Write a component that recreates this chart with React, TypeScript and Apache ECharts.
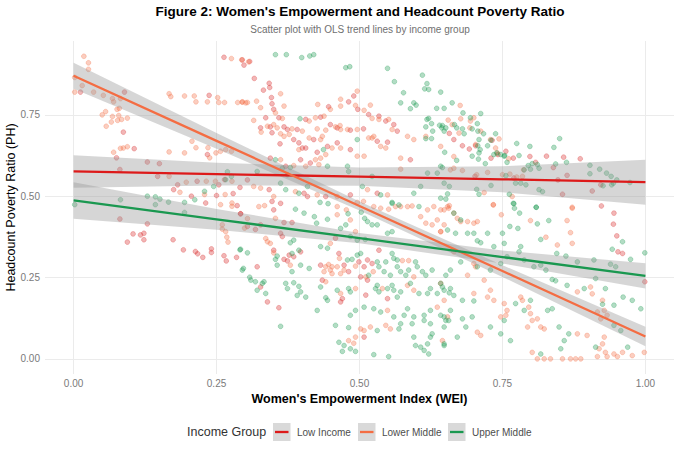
import React, { useEffect, useRef } from "react";
import * as echarts from "echarts";

// ---------- data ----------
const groupNames = ["Low Income", "Lower Middle", "Upper Middle"];
const xTicks = [0, 0.25, 0.5, 0.75, 1];
const yTicks = [0, 0.25, 0.5, 0.75];

const lowIncomePts: [number, number][] = [
  [0.012,0.82],[0.089,0.82],[0.087,0.697],[0.106,0.646],[0.075,0.618],[0.081,0.582],[0.129,0.605],[0.15,0.6],[0.237,0.81],[0.263,0.927],
  [0.234,0.628],[0.147,0.561],[0.182,0.535],[0.216,0.546],[0.254,0.535],[0.175,0.52],[0.206,0.5],[0.25,0.502],[0.279,0.508],[0.231,0.479],
  [0.286,0.471],[0.291,0.527],[0.264,0.551],[0.081,0.43],[0.129,0.415],[0.104,0.384],[0.117,0.381],[0.123,0.386],[0.123,0.366],[0.094,0.359],
  [0.174,0.366],[0.192,0.335],[0.213,0.33],[0.217,0.323],[0.226,0.312],[0.241,0.338],[0.241,0.327],[0.263,0.317],[0.267,0.301],[0.285,0.312],
  [0.292,0.446],[0.295,0.919],[0.308,0.914],[0.298,0.903],[0.316,0.862],[0.342,0.847],[0.343,0.834],[0.332,0.826],[0.346,0.803],[0.347,0.784],
  [0.35,0.767],[0.336,0.741],[0.359,0.741],[0.327,0.71],[0.344,0.713],[0.368,0.713],[0.347,0.695],[0.374,0.705],[0.391,0.705],[0.406,0.736],
  [0.432,0.743],[0.446,0.775],[0.49,0.808],[0.481,0.79],[0.497,0.767],[0.516,0.751],[0.534,0.746],[0.546,0.731],[0.56,0.72],[0.566,0.7],
  [0.449,0.72],[0.461,0.71],[0.484,0.703],[0.507,0.707],[0.385,0.674],[0.394,0.664],[0.4,0.648],[0.406,0.648],[0.361,0.661],[0.42,0.674],
  [0.444,0.653],[0.461,0.664],[0.426,0.635],[0.484,0.643],[0.531,0.669],[0.549,0.666],[0.589,0.612],[0.344,0.617],[0.371,0.592],[0.397,0.612],
  [0.414,0.602],[0.304,0.55],[0.342,0.52],[0.362,0.478],[0.403,0.509],[0.409,0.499],[0.441,0.499],[0.484,0.504],[0.531,0.509],[0.657,0.693],
  [0.665,0.674],[0.68,0.655],[0.692,0.645],[0.703,0.655],[0.732,0.672],[0.73,0.617],[0.742,0.628],[0.756,0.638],[0.769,0.617],[0.798,0.622],
  [0.827,0.623],[0.857,0.62],[0.886,0.615],[0.808,0.604],[0.839,0.588],[0.863,0.564],[0.847,0.55],[0.907,0.516],[0.922,0.535],[0.855,0.506],
  [0.923,0.47],[0.77,0.556],[0.702,0.561],[0.347,0.484],[0.292,0.446],[0.304,0.407],[0.318,0.398],[0.327,0.412],[0.35,0.458],[0.368,0.419],
  [0.382,0.419],[0.458,0.371],[0.35,0.334],[0.362,0.386],[0.365,0.376],[0.397,0.329],[0.385,0.314],[0.377,0.319],[0.368,0.306],[0.374,0.301],
  [0.321,0.283],[0.464,0.324],[0.499,0.298],[0.514,0.304],[0.508,0.283],[0.522,0.293],[0.534,0.334],[0.432,0.288],[0.473,0.288],[0.435,0.242],
  [0.481,0.268],[0.502,0.252],[0.514,0.242],[0.327,0.221],[0.339,0.175],[0.359,0.157],[0.47,0.185],[0.467,0.175],[0.511,0.196],[0.549,0.185],
  [0.508,0.067],[0.945,0.448],[0.944,0.414],[0.95,0.378],[0.952,0.329],[0.96,0.324],[0.999,0.237],
];

const lowerMiddlePts: [number, number][] = [
  [0.018,0.93],[0.026,0.91],[0.026,0.89],[0.002,0.865],[0.002,0.82],[0.015,0.84],[0.035,0.82],[0.052,0.81],[0.068,0.8],[0.07,0.79],
  [0.082,0.8],[0.05,0.75],[0.056,0.76],[0.068,0.745],[0.076,0.767],[0.08,0.77],[0.079,0.748],[0.077,0.733],[0.084,0.736],[0.094,0.74],
  [0.066,0.728],[0.057,0.715],[0.07,0.635],[0.082,0.647],[0.087,0.648],[0.094,0.652],[0.167,0.815],[0.17,0.806],[0.194,0.808],[0.211,0.808],
  [0.214,0.79],[0.234,0.79],[0.252,0.803],[0.254,0.788],[0.264,0.788],[0.287,0.788],[0.295,0.79],[0.304,0.788],[0.276,0.923],[0.294,0.919],
  [0.306,0.913],[0.207,0.669],[0.214,0.649],[0.235,0.649],[0.238,0.618],[0.249,0.633],[0.257,0.638],[0.266,0.643],[0.276,0.638],[0.167,0.636],
  [0.194,0.633],[0.167,0.561],[0.197,0.543],[0.232,0.546],[0.248,0.546],[0.277,0.546],[0.186,0.512],[0.229,0.505],[0.265,0.505],[0.257,0.474],
  [0.277,0.479],[0.277,0.469],[0.26,0.412],[0.26,0.399],[0.266,0.391],[0.268,0.374],[0.27,0.359],[0.299,0.402],[0.304,0.431],[0.362,0.815],
  [0.32,0.792],[0.301,0.787],[0.295,0.789],[0.327,0.772],[0.315,0.733],[0.353,0.756],[0.368,0.777],[0.365,0.739],[0.35,0.72],[0.339,0.715],
  [0.356,0.71],[0.328,0.697],[0.362,0.692],[0.382,0.707],[0.4,0.7],[0.423,0.741],[0.438,0.746],[0.412,0.731],[0.427,0.782],[0.449,0.767],
  [0.467,0.798],[0.467,0.777],[0.496,0.823],[0.493,0.779],[0.508,0.764],[0.519,0.78],[0.522,0.739],[0.534,0.736],[0.551,0.736],[0.557,0.705],
  [0.458,0.713],[0.466,0.717],[0.467,0.705],[0.479,0.705],[0.496,0.705],[0.426,0.707],[0.441,0.703],[0.435,0.684],[0.394,0.643],[0.368,0.684],
  [0.377,0.69],[0.412,0.679],[0.432,0.674],[0.452,0.648],[0.441,0.628],[0.432,0.617],[0.423,0.612],[0.467,0.648],[0.496,0.623],[0.508,0.623],
  [0.516,0.679],[0.522,0.679],[0.525,0.684],[0.537,0.653],[0.546,0.648],[0.572,0.617],[0.572,0.583],[0.584,0.684],[0.595,0.674],[0.616,0.684],
  [0.642,0.653],[0.362,0.612],[0.385,0.594],[0.406,0.592],[0.429,0.597],[0.315,0.53],[0.327,0.525],[0.35,0.499],[0.388,0.514],[0.426,0.504],
  [0.461,0.499],[0.514,0.52],[0.549,0.504],[0.676,0.779],[0.655,0.734],[0.662,0.72],[0.677,0.738],[0.693,0.71],[0.694,0.731],[0.7,0.741],
  [0.712,0.7],[0.674,0.694],[0.703,0.659],[0.744,0.676],[0.729,0.674],[0.738,0.648],[0.665,0.622],[0.659,0.581],[0.665,0.586],[0.68,0.579],
  [0.705,0.566],[0.724,0.573],[0.75,0.566],[0.763,0.568],[0.787,0.581],[0.785,0.561],[0.775,0.559],[0.718,0.511],[0.767,0.499],[0.734,0.473],
  [0.872,0.463],[0.657,0.471],[0.761,0.615],[0.741,0.633],[0.324,0.468],[0.334,0.471],[0.461,0.468],[0.477,0.458],[0.525,0.468],[0.537,0.463],
  [0.551,0.46],[0.563,0.468],[0.572,0.468],[0.584,0.468],[0.592,0.47],[0.619,0.458],[0.63,0.468],[0.642,0.458],[0.656,0.463],[0.607,0.437],
  [0.616,0.417],[0.627,0.412],[0.636,0.427],[0.642,0.391],[0.648,0.412],[0.496,0.481],[0.507,0.484],[0.353,0.432],[0.461,0.443],[0.484,0.427],
  [0.493,0.391],[0.449,0.355],[0.336,0.37],[0.339,0.36],[0.35,0.326],[0.344,0.355],[0.379,0.288],[0.465,0.309],[0.493,0.285],[0.575,0.302],
  [0.586,0.302],[0.441,0.283],[0.446,0.29],[0.452,0.283],[0.461,0.283],[0.452,0.262],[0.449,0.273],[0.438,0.268],[0.441,0.237],[0.467,0.262],
  [0.473,0.273],[0.511,0.252],[0.524,0.268],[0.595,0.252],[0.467,0.201],[0.493,0.216],[0.54,0.216],[0.584,0.226],[0.595,0.211],[0.549,0.149],
  [0.636,0.159],[0.502,0.092],[0.508,0.087],[0.519,0.098],[0.546,0.103],[0.554,0.092],[0.481,0.056],[0.49,0.048],[0.493,0.067],[0.734,0.474],
  [0.748,0.443],[0.799,0.425],[0.863,0.425],[0.872,0.466],[0.869,0.388],[0.872,0.355],[0.846,0.35],[0.826,0.374],[0.665,0.448],[0.671,0.432],
  [0.677,0.422],[0.7,0.417],[0.706,0.422],[0.689,0.422],[0.654,0.468],[0.648,0.458],[0.642,0.391],[0.665,0.329],[0.7,0.293],[0.703,0.283],
  [0.689,0.257],[0.718,0.242],[0.729,0.211],[0.724,0.19],[0.735,0.18],[0.7,0.201],[0.753,0.17],[0.758,0.149],[0.747,0.129],[0.756,0.134],
  [0.782,0.19],[0.785,0.18],[0.796,0.159],[0.799,0.139],[0.802,0.118],[0.811,0.123],[0.817,0.098],[0.823,0.092],[0.794,0.098],[0.881,0.077],
  [0.898,0.072],[0.881,0.206],[0.904,0.221],[0.907,0.2],[0.925,0.18],[0.928,0.149],[0.933,0.134],[0.916,0.144],[0.922,0.123],[0.928,0.067],
  [0.925,0.046],[0.919,0.031],[0.93,0.02],[0.945,0.015],[0.96,0.02],[0.977,0.01],[0.998,0.02],[0.811,0.0],[0.823,0.0],[0.834,0.0],
  [0.855,0.0],[0.869,0.0],[0.878,0.0],[0.887,0.0],[0.916,0.007],[0.933,0.007],[0.951,0.007],[0.802,0.02],[0.712,0.072],[0.706,0.082],
  [0.645,0.056],[0.654,0.129],[0.648,0.18],[0.642,0.232],
];

const upperMiddlePts: [number, number][] = [
  [0.002,0.474],[0.082,0.489],[0.129,0.5],[0.143,0.498],[0.151,0.491],[0.166,0.482],[0.143,0.474],[0.194,0.481],[0.212,0.489],[0.229,0.515],
  [0.245,0.53],[0.269,0.575],[0.266,0.551],[0.276,0.561],[0.194,0.45],[0.291,0.335],[0.295,0.273],[0.308,0.251],[0.353,0.935],[0.372,0.935],
  [0.399,0.926],[0.413,0.931],[0.42,0.935],[0.476,0.895],[0.483,0.898],[0.549,0.893],[0.561,0.852],[0.61,0.872],[0.618,0.846],[0.614,0.83],
  [0.621,0.828],[0.577,0.818],[0.642,0.82],[0.572,0.787],[0.595,0.787],[0.599,0.78],[0.589,0.769],[0.635,0.77],[0.648,0.77],[0.618,0.736],
  [0.621,0.739],[0.616,0.713],[0.626,0.723],[0.64,0.718],[0.644,0.71],[0.648,0.7],[0.628,0.7],[0.626,0.677],[0.616,0.677],[0.496,0.674],
  [0.396,0.738],[0.437,0.643],[0.321,0.576],[0.353,0.612],[0.365,0.586],[0.379,0.588],[0.374,0.566],[0.362,0.54],[0.371,0.52],[0.394,0.509],
  [0.409,0.53],[0.444,0.592],[0.479,0.592],[0.481,0.576],[0.505,0.53],[0.522,0.561],[0.537,0.504],[0.557,0.478],[0.569,0.473],[0.595,0.509],
  [0.607,0.53],[0.619,0.571],[0.636,0.571],[0.642,0.592],[0.648,0.54],[0.662,0.787],[0.681,0.756],[0.694,0.741],[0.712,0.754],[0.645,0.717],
  [0.651,0.71],[0.666,0.72],[0.67,0.71],[0.68,0.707],[0.683,0.692],[0.697,0.707],[0.706,0.723],[0.707,0.7],[0.717,0.692],[0.738,0.692],
  [0.709,0.674],[0.707,0.655],[0.711,0.643],[0.709,0.633],[0.724,0.655],[0.73,0.672],[0.735,0.628],[0.74,0.633],[0.747,0.628],[0.753,0.623],
  [0.775,0.662],[0.779,0.625],[0.798,0.653],[0.84,0.65],[0.85,0.677],[0.649,0.635],[0.67,0.61],[0.697,0.623],[0.708,0.614],[0.72,0.6],
  [0.758,0.604],[0.788,0.581],[0.795,0.594],[0.802,0.6],[0.811,0.597],[0.814,0.586],[0.799,0.583],[0.843,0.599],[0.862,0.604],[0.903,0.595],
  [0.903,0.569],[0.92,0.583],[0.932,0.571],[0.94,0.561],[0.95,0.55],[0.973,0.542],[0.926,0.532],[0.941,0.535],[0.944,0.54],[0.645,0.588],
  [0.657,0.53],[0.654,0.507],[0.705,0.521],[0.709,0.506],[0.73,0.533],[0.756,0.563],[0.754,0.625],[0.773,0.54],[0.782,0.54],[0.791,0.535],
  [0.814,0.52],[0.82,0.514],[0.762,0.506],[0.769,0.478],[0.771,0.463],[0.809,0.466],[0.642,0.494],[0.651,0.491],
  [0.388,0.46],[0.431,0.481],[0.445,0.477],[0.48,0.446],[0.503,0.451],[0.509,0.432],[0.514,0.422],[0.522,0.412],[0.531,0.412],[0.549,0.386],
  [0.557,0.391],[0.557,0.481],[0.604,0.468],[0.403,0.448],[0.421,0.437],[0.425,0.417],[0.444,0.429],[0.467,0.401],[0.476,0.412],[0.484,0.376],
  [0.496,0.365],[0.51,0.367],[0.432,0.345],[0.444,0.34],[0.292,0.337],[0.379,0.357],[0.385,0.365],[0.394,0.334],[0.382,0.324],[0.356,0.316],
  [0.353,0.306],[0.356,0.288],[0.382,0.268],[0.412,0.278],[0.397,0.288],[0.297,0.278],[0.304,0.326],[0.479,0.304],[0.487,0.306],[0.496,0.319],
  [0.502,0.324],[0.531,0.298],[0.546,0.298],[0.557,0.324],[0.56,0.309],[0.566,0.304],[0.598,0.298],[0.601,0.283],[0.627,0.273],[0.516,0.257],
  [0.534,0.283],[0.543,0.268],[0.554,0.257],[0.566,0.283],[0.572,0.268],[0.581,0.257],[0.586,0.273],[0.61,0.268],[0.616,0.257],[0.31,0.242],
  [0.318,0.237],[0.321,0.211],[0.33,0.232],[0.333,0.237],[0.336,0.201],[0.371,0.232],[0.374,0.216],[0.385,0.234],[0.394,0.223],[0.397,0.206],
  [0.406,0.19],[0.391,0.195],[0.362,0.1],[0.426,0.149],[0.441,0.188],[0.444,0.18],[0.432,0.221],[0.461,0.211],[0.481,0.216],[0.484,0.206],
  [0.528,0.216],[0.531,0.226],[0.534,0.206],[0.549,0.216],[0.557,0.226],[0.56,0.211],[0.566,0.19],[0.572,0.206],[0.589,0.232],[0.604,0.201],
  [0.619,0.201],[0.624,0.216],[0.636,0.201],[0.642,0.232],[0.648,0.211],[0.659,0.216],[0.493,0.149],[0.508,0.159],[0.525,0.154],[0.537,0.144],
  [0.56,0.129],[0.578,0.134],[0.584,0.154],[0.595,0.129],[0.613,0.134],[0.624,0.149],[0.642,0.134],[0.648,0.129],[0.484,0.134],[0.458,0.103],
  [0.481,0.096],[0.531,0.087],[0.572,0.108],[0.569,0.092],[0.592,0.108],[0.613,0.118],[0.624,0.108],[0.648,0.098],[0.656,0.118],[0.464,0.051],
  [0.473,0.041],[0.484,0.031],[0.47,0.023],[0.493,0.023],[0.525,0.013],[0.551,0.007],[0.595,0.067],[0.598,0.041],[0.607,0.036],[0.619,0.046],
  [0.624,0.067],[0.627,0.077],[0.613,0.026],[0.621,0.015],[0.648,0.041],
  [0.77,0.477],[0.78,0.448],[0.809,0.466],[0.831,0.425],[0.811,0.415],[0.763,0.407],[0.777,0.401],[0.75,0.386],[0.724,0.386],[0.7,0.386],
  [0.689,0.386],[0.668,0.386],[0.654,0.396],[0.665,0.448],[0.677,0.427],[0.706,0.363],[0.712,0.357],[0.735,0.345],[0.753,0.355],[0.782,0.345],
  [0.779,0.329],[0.817,0.367],[0.845,0.324],[0.861,0.316],[0.881,0.298],[0.91,0.304],[0.939,0.291],[0.948,0.283],[0.974,0.306],[0.999,0.326],
  [0.96,0.36],[0.942,0.337],[0.817,0.288],[0.826,0.273],[0.837,0.244],[0.843,0.24],[0.805,0.283],[0.788,0.304],[0.747,0.293],[0.758,0.314],
  [0.729,0.273],[0.706,0.283],[0.677,0.298],[0.659,0.273],[0.651,0.257],[0.645,0.221],[0.657,0.203],[0.665,0.195],[0.68,0.18],[0.7,0.178],
  [0.659,0.149],[0.651,0.118],[0.68,0.123],[0.697,0.129],[0.686,0.098],[0.648,0.046],[0.671,0.067],[0.729,0.098],[0.747,0.077],[0.764,0.056],
  [0.753,0.118],[0.773,0.17],[0.788,0.149],[0.799,0.18],[0.829,0.149],[0.837,0.154],[0.849,0.098],[0.866,0.077],[0.858,0.056],[0.852,0.031],
  [0.817,0.015],[0.913,0.036],[0.93,0.216],[0.945,0.165],[0.961,0.19],[0.977,0.18],[0.992,0.154],[0.957,0.087],[0.925,0.168],[0.863,0.226],
  [0.893,0.216],[0.913,0.247],[0.945,0.103],[0.969,0.036],
];

// OLS trend lines with 95% confidence band, read at these WEI values
const fitX = [0, 0.25, 0.5, 0.75, 1];
const lowIncomeFit = [0.576, 0.568, 0.56, 0.552, 0.543];
const lowIncomeLo = [0.526, 0.533, 0.532, 0.512, 0.474];
const lowIncomeHi = [0.626, 0.603, 0.588, 0.592, 0.612];
const lowerMiddleFit = [0.87, 0.67, 0.47, 0.27, 0.069];
const lowerMiddleLo = [0.83, 0.646, 0.456, 0.252, 0.039];
const lowerMiddleHi = [0.91, 0.694, 0.484, 0.288, 0.099];
const upperMiddleFit = [0.487, 0.429, 0.371, 0.313, 0.255];
const upperMiddleLo = [0.431, 0.397, 0.355, 0.293, 0.216];
const upperMiddleHi = [0.543, 0.461, 0.387, 0.333, 0.294];

// ---------- styling ----------
const lineColors = ["#DD1A1A", "#F46D43", "#1A9850"];
const pointColors = ["rgba(215,40,40,0.42)", "rgba(244,109,67,0.42)", "rgba(26,152,80,0.42)"];
const bandFill = "rgba(153,153,153,0.4)";
const FONT = "'Liberation Sans', Arial, Helvetica, sans-serif";

export default function App() {
  const ref = useRef<HTMLDivElement>(null);

  useEffect(() => {
    if (!ref.current) return;
    const chart = echarts.init(ref.current, undefined, { renderer: "svg" });

    const pts = [lowIncomePts, lowerMiddlePts, upperMiddlePts];
    const fits = [lowIncomeFit, lowerMiddleFit, upperMiddleFit];
    const los = [lowIncomeLo, lowerMiddleLo, upperMiddleLo];
    const his = [lowIncomeHi, lowerMiddleHi, upperMiddleHi];

    const scatterSeries = pts.map((d, i) => ({
      type: "scatter",
      name: groupNames[i],
      data: d,
      symbolSize: 4.8,
      itemStyle: { color: pointColors[i], borderColor: pointColors[i], borderWidth: 0.8 },
      z: 2,
      silent: true,
      ...(i === 0
        ? {
            markLine: {
              silent: true,
              symbol: "none",
              z: 0,
              label: { show: false },
              lineStyle: { color: "#ebebeb", width: 1, type: "solid" },
              data: [
                ...yTicks.map((v) => ({ yAxis: v })),
                ...xTicks.map((v) => ({ xAxis: v })),
              ],
            },
          }
        : {}),
    }));

    const smoothSeries: any[] = [];
    for (let g = 0; g < 3; g++) {
      const lo = los[g];
      const hi = his[g];
      smoothSeries.push({
        type: "custom",
        name: groupNames[g] + " band",
        silent: true,
        z: 3,
        data: [[fitX[0], fits[g][0]]],
        encode: { x: 0, y: 1 },
        renderItem: (_params: any, api: any) => {
          const upper = fitX.map((x, i) => api.coord([x, hi[i]]));
          const lower = fitX.map((x, i) => api.coord([x, lo[i]])).reverse();
          return {
            type: "polygon",
            shape: { points: upper.concat(lower) },
            style: { fill: bandFill, stroke: "none" },
          };
        },
      });
      smoothSeries.push({
        type: "line",
        name: groupNames[g] + " fit",
        data: fitX.map((x, i) => [x, fits[g][i]]),
        symbol: "none",
        silent: true,
        z: 3,
        lineStyle: { color: lineColors[g], width: 2.3 },
      });
    }

    // legend drawn in ggplot style: grey key boxes with coloured line
    const legendY = 432;
    const keyX = [273, 358, 448];
    const legendChildren: any[] = [
      {
        type: "text",
        x: 187,
        y: legendY,
        style: { text: "Income Group", font: `12.5px ${FONT}`, fill: "#333333", verticalAlign: "middle" },
      },
    ];
    groupNames.forEach((name, i) => {
      legendChildren.push({
        type: "rect",
        shape: { x: keyX[i], y: legendY - 9, width: 17.5, height: 18 },
        style: { fill: "#d9d9d9" },
      });
      legendChildren.push({
        type: "line",
        shape: { x1: keyX[i] + 2, y1: legendY, x2: keyX[i] + 15.5, y2: legendY },
        style: { stroke: lineColors[i], lineWidth: 2.3 },
      });
      legendChildren.push({
        type: "text",
        x: keyX[i] + 24,
        y: legendY,
        style: { text: name, font: `10px ${FONT}`, fill: "#4d4d4d", verticalAlign: "middle" },
      });
    });

    chart.setOption({
      animation: false,
      backgroundColor: "#ffffff",
      textStyle: { fontFamily: FONT },
      grid: { left: 45, right: 6, top: 41, bottom: 79, containLabel: false, outerBoundsMode: "none" },
      xAxis: {
        type: "value",
        min: -0.05,
        max: 1.05,
        name: "Women's Empowerment Index (WEI)",
        nameLocation: "middle",
        nameGap: 16,
        nameTextStyle: { fontSize: 12.5, fontWeight: "bold", color: "#000000", fontFamily: FONT },
        axisLine: { show: false },
        axisTick: { show: false },
        splitLine: { show: false },
        axisLabel: {
          customValues: xTicks,
          formatter: (v: number) => v.toFixed(2),
          color: "#7a7a7a",
          fontSize: 10,
          margin: 4,
          fontFamily: FONT,
        },
      },
      yAxis: {
        type: "value",
        min: -0.0465,
        max: 0.977,
        axisLine: { show: false },
        axisTick: { show: false },
        splitLine: { show: false },
        axisLabel: {
          customValues: yTicks,
          formatter: (v: number) => v.toFixed(2),
          color: "#7a7a7a",
          fontSize: 10,
          margin: 5,
          fontFamily: FONT,
        },
      },
      graphic: [
        {
          type: "text",
          x: 360,
          y: 11,
          style: {
            text: "Figure 2: Women's Empowerment and Headcount Poverty Ratio",
            font: `bold 13.5px ${FONT}`,
            fill: "#000000",
            align: "center",
            verticalAlign: "middle",
          },
        },
        {
          type: "text",
          x: 360,
          y: 29.5,
          style: {
            text: "Scatter plot with OLS trend lines by income group",
            font: `10px ${FONT}`,
            fill: "#707070",
            align: "center",
            verticalAlign: "middle",
          },
        },
        {
          type: "text",
          x: 10.5,
          y: 207.5,
          rotation: Math.PI / 2,
          style: {
            text: "Headcount Poverty Ratio (PH)",
            font: `12.5px ${FONT}`,
            fill: "#000000",
            align: "center",
            verticalAlign: "middle",
          },
        },
        { type: "group", children: legendChildren },
      ],
      series: [...scatterSeries, ...smoothSeries],
    });

    return () => chart.dispose();
  }, []);

  return (
    <div
      ref={ref}
      style={{ position: "fixed", left: 0, top: 0, width: 680, height: 453, background: "#fff" }}
    />
  );
}
